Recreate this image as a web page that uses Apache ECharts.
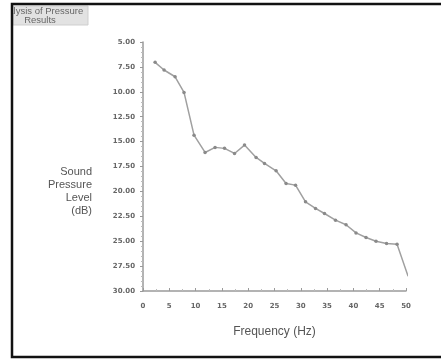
<!DOCTYPE html>
<html>
<head>
<meta charset="utf-8">
<style>
  html, body { margin: 0; padding: 0; background: #fff; }
  #chart { width: 441px; height: 360px; }
</style>
<script src="https://cdn.jsdelivr.net/npm/echarts@6/dist/echarts.min.js"></script>
</head>
<body>
<div id="chart"></div>
<script>
// frequency (Hz)
var freq = [2.3, 4.0, 6.1, 7.8, 9.7, 11.8, 13.7, 15.5, 17.4, 19.3, 21.5, 23.1, 25.3,
            27.2, 29.0, 30.9, 32.8, 34.5, 36.6, 38.6, 40.5, 42.4, 44.3, 46.3, 48.3, 50.4];
// sound pressure level (dB)
var spl = [7.04, 7.81, 8.49, 10.06, 14.35, 16.09, 15.58, 15.68, 16.19, 15.35, 16.59, 17.19, 17.93,
           19.20, 19.37, 21.05, 21.71, 22.22, 22.89, 23.35, 24.17, 24.63, 25.00, 25.23, 25.30, 28.52];
var xTicks = [0, 5, 10, 15, 20, 25, 30, 35, 40, 45, 50];
var yTicks = [5, 7.5, 10, 12.5, 15, 17.5, 20, 22.5, 25, 27.5, 30];

var points = freq.map(function(f, i) { return [f, spl[i]]; });
var axisGray = '#9a9a9a';
var textGray = '#666';

var chart = echarts.init(document.getElementById('chart'), null, { renderer: 'canvas' });
chart.setOption({
  animation: false,
  grid: { left: 143, top: 42, width: 263, height: 249 },
  xAxis: {
    type: 'value',
    min: xTicks[0],
    max: xTicks[xTicks.length - 1],
    interval: 5,
    name: 'Frequency (Hz)',
    nameLocation: 'middle',
    nameGap: 35,
    nameTextStyle: { color: '#555', fontSize: 12, fontFamily: 'Liberation Sans' },
    axisLine: { lineStyle: { color: axisGray, width: 1.5 } },
    axisTick: { inside: true, length: 3, lineStyle: { color: axisGray } },
    minorTick: { show: true, splitNumber: 2, length: 2, lineStyle: { color: '#bbb' } },
    splitLine: { show: false },
    axisLabel: { color: textGray, fontSize: 7, fontWeight: 'bold', margin: 12, fontFamily: 'DejaVu Sans' }
  },
  yAxis: {
    type: 'value',
    inverse: true,
    min: yTicks[0],
    max: yTicks[yTicks.length - 1],
    interval: 2.5,
    axisLine: { show: true, lineStyle: { color: axisGray, width: 1.5 } },
    axisTick: { show: true, length: 3, lineStyle: { color: axisGray } },
    minorTick: { show: true, splitNumber: 5, length: 2, lineStyle: { color: '#bbb' } },
    splitLine: { show: false },
    axisLabel: {
      color: textGray, fontSize: 7, fontWeight: 'bold', margin: 8, fontFamily: 'DejaVu Sans',
      formatter: function(v) { return v.toFixed(2); }
    }
  },
  series: [{
    type: 'line',
    data: points,
    symbol: 'circle',
    symbolSize: 3.5,
    itemStyle: { color: '#8a8a8a' },
    lineStyle: { color: '#a0a0a0', width: 1.5 }
  }],
  graphic: [
    {
      type: 'text', z: 10,
      x: 92, y: 165,
      style: {
        text: 'Sound\nPressure\nLevel\n(dB)',
        fill: '#555', font: '11px "Liberation Sans"', align: 'right', lineHeight: 13
      }
    },
    {
      type: 'rect', z: 20,
      shape: { x: 13, y: 6, width: 75, height: 19 },
      style: { fill: '#e2e2e2', stroke: '#cfcfcf', lineWidth: 1 }
    },
    {
      type: 'text', z: 21,
      x: 40, y: 7,
      style: {
        text: 'Analysis of Pressure\nResults',
        fill: '#666', font: '9.5px "Liberation Sans"', align: 'center', lineHeight: 9
      }
    },
    {
      type: 'rect', z: 30,
      shape: { x: 0, y: 0, width: 12, height: 40 },
      style: { fill: '#fff' }
    },
    {
      type: 'rect', z: 31,
      shape: { x: 12, y: 4, width: 440, height: 353 },
      style: { fill: 'none', stroke: '#111', lineWidth: 2.5 }
    }
  ]
});
</script>
</body>
</html>
